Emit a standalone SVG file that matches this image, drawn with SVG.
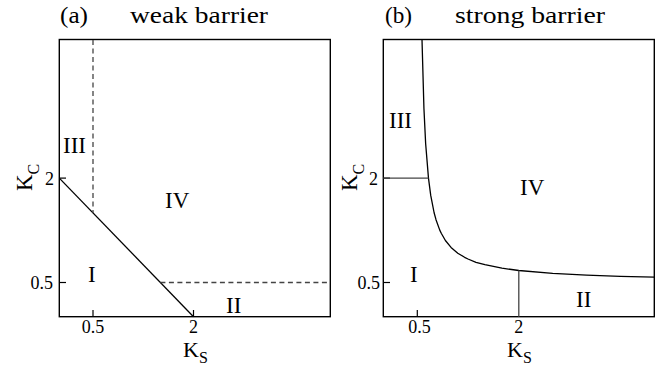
<svg xmlns="http://www.w3.org/2000/svg" width="668" height="367" viewBox="0 0 668 367">
<rect width="668" height="367" fill="#fff"/>
<g id="panel-a">
  <text font-family="Liberation Serif" font-size="24" x="60" y="23" textLength="28" lengthAdjust="spacingAndGlyphs">(a)</text>
  <text font-family="Liberation Serif" font-size="24" x="130" y="23" textLength="138" lengthAdjust="spacingAndGlyphs">weak barrier</text>
  <rect x="59.3" y="39.5" width="271" height="277.2" fill="none" stroke="#000" stroke-width="1.4"/>
  <g id="ticks-a" stroke="#000" stroke-width="1.2">
    <line x1="59.3" y1="178.1" x2="66" y2="178.1"/>
    <line x1="59.3" y1="282.5" x2="66" y2="282.5"/>
    <line x1="93" y1="316.7" x2="93" y2="310"/>
    <line x1="193.5" y1="316.7" x2="193.5" y2="310"/>
  </g>
  <text font-family="Liberation Serif" font-size="18" x="54" y="185" text-anchor="end">2</text>
  <text font-family="Liberation Serif" font-size="18" x="53" y="289" text-anchor="end">0.5</text>
  <text font-family="Liberation Serif" font-size="18" x="93" y="333" text-anchor="middle">0.5</text>
  <text font-family="Liberation Serif" font-size="18" x="193.5" y="333" text-anchor="middle">2</text>
  <g id="connectors-a" fill="none" stroke-width="1.3">
    <line stroke="#000" x1="59.3" y1="178.1" x2="193.5" y2="316.7"/>
    <line stroke="#444" stroke-dasharray="5 3.5" x1="93" y1="40" x2="93" y2="212.9"/>
    <line stroke="#444" stroke-dasharray="5 3.5" x1="160.4" y1="282.5" x2="330" y2="282.5"/>
  </g>
  <g id="regions-a">
    <text font-family="Liberation Serif" font-size="23" x="63" y="153">III</text>
    <text font-family="Liberation Serif" font-size="23" x="165" y="208">IV</text>
    <text font-family="Liberation Serif" font-size="23" x="88" y="282">I</text>
    <text font-family="Liberation Serif" font-size="23" x="226" y="313">II</text>
  </g>
  <text font-family="Liberation Serif" font-size="23" transform="translate(32,191) rotate(-90)">K<tspan font-size="16" dy="7">C</tspan></text>
  <text font-family="Liberation Serif" font-size="22" x="183" y="357">K<tspan font-size="16" dy="6">S</tspan></text>
</g>
<g id="panel-b">
  <text font-family="Liberation Serif" font-size="24" x="385" y="23" textLength="27" lengthAdjust="spacingAndGlyphs">(b)</text>
  <text font-family="Liberation Serif" font-size="24" x="455" y="23" textLength="150" lengthAdjust="spacingAndGlyphs">strong barrier</text>
  <rect x="383.3" y="39.5" width="271" height="277.2" fill="none" stroke="#000" stroke-width="1.4"/>
  <g id="ticks-b" stroke="#000" stroke-width="1.2">
    <line x1="383.3" y1="178.1" x2="390" y2="178.1"/>
    <line x1="383.3" y1="282.5" x2="390" y2="282.5"/>
    <line x1="417.3" y1="316.7" x2="417.3" y2="310"/>
  </g>
  <text font-family="Liberation Serif" font-size="18" x="378" y="185" text-anchor="end">2</text>
  <text font-family="Liberation Serif" font-size="18" x="380" y="289" text-anchor="end">0.5</text>
  <text font-family="Liberation Serif" font-size="18" x="419.5" y="333" text-anchor="middle">0.5</text>
  <text font-family="Liberation Serif" font-size="18" x="518.8" y="333" text-anchor="middle">2</text>
  <g id="connectors-b" fill="none" stroke-width="1.3">
    <polyline stroke="#000" stroke-linejoin="round" points="422,39.5 423.95,108.8 425.64,143.45 428.47,178.1 430.73,195.4 434.11,212.75 436,219.7 439.76,230.1 441.4,233.5 445.4,240.5 451.05,247.4 457.8,253.2 464.6,257.3 468,259 476,262.3 484.9,264.7 501.9,268.2 518.8,270.5 552.7,273.4 586.55,275.1 620.4,276.3 654.3,277.1"/>
    <line stroke="#444" x1="383.3" y1="178.1" x2="428.47" y2="178.1"/>
    <line stroke="#444" x1="518.8" y1="316.7" x2="518.8" y2="270.5"/>
  </g>
  <g id="regions-b">
    <text font-family="Liberation Serif" font-size="23" x="389" y="128">III</text>
    <text font-family="Liberation Serif" font-size="23" x="520" y="195">IV</text>
    <text font-family="Liberation Serif" font-size="23" x="410" y="282">I</text>
    <text font-family="Liberation Serif" font-size="23" x="576" y="307">II</text>
  </g>
  <text font-family="Liberation Serif" font-size="23" transform="translate(357,191) rotate(-90)">K<tspan font-size="16" dy="7">C</tspan></text>
  <text font-family="Liberation Serif" font-size="22" x="507" y="357">K<tspan font-size="16" dy="6">S</tspan></text>
</g>
</svg>
